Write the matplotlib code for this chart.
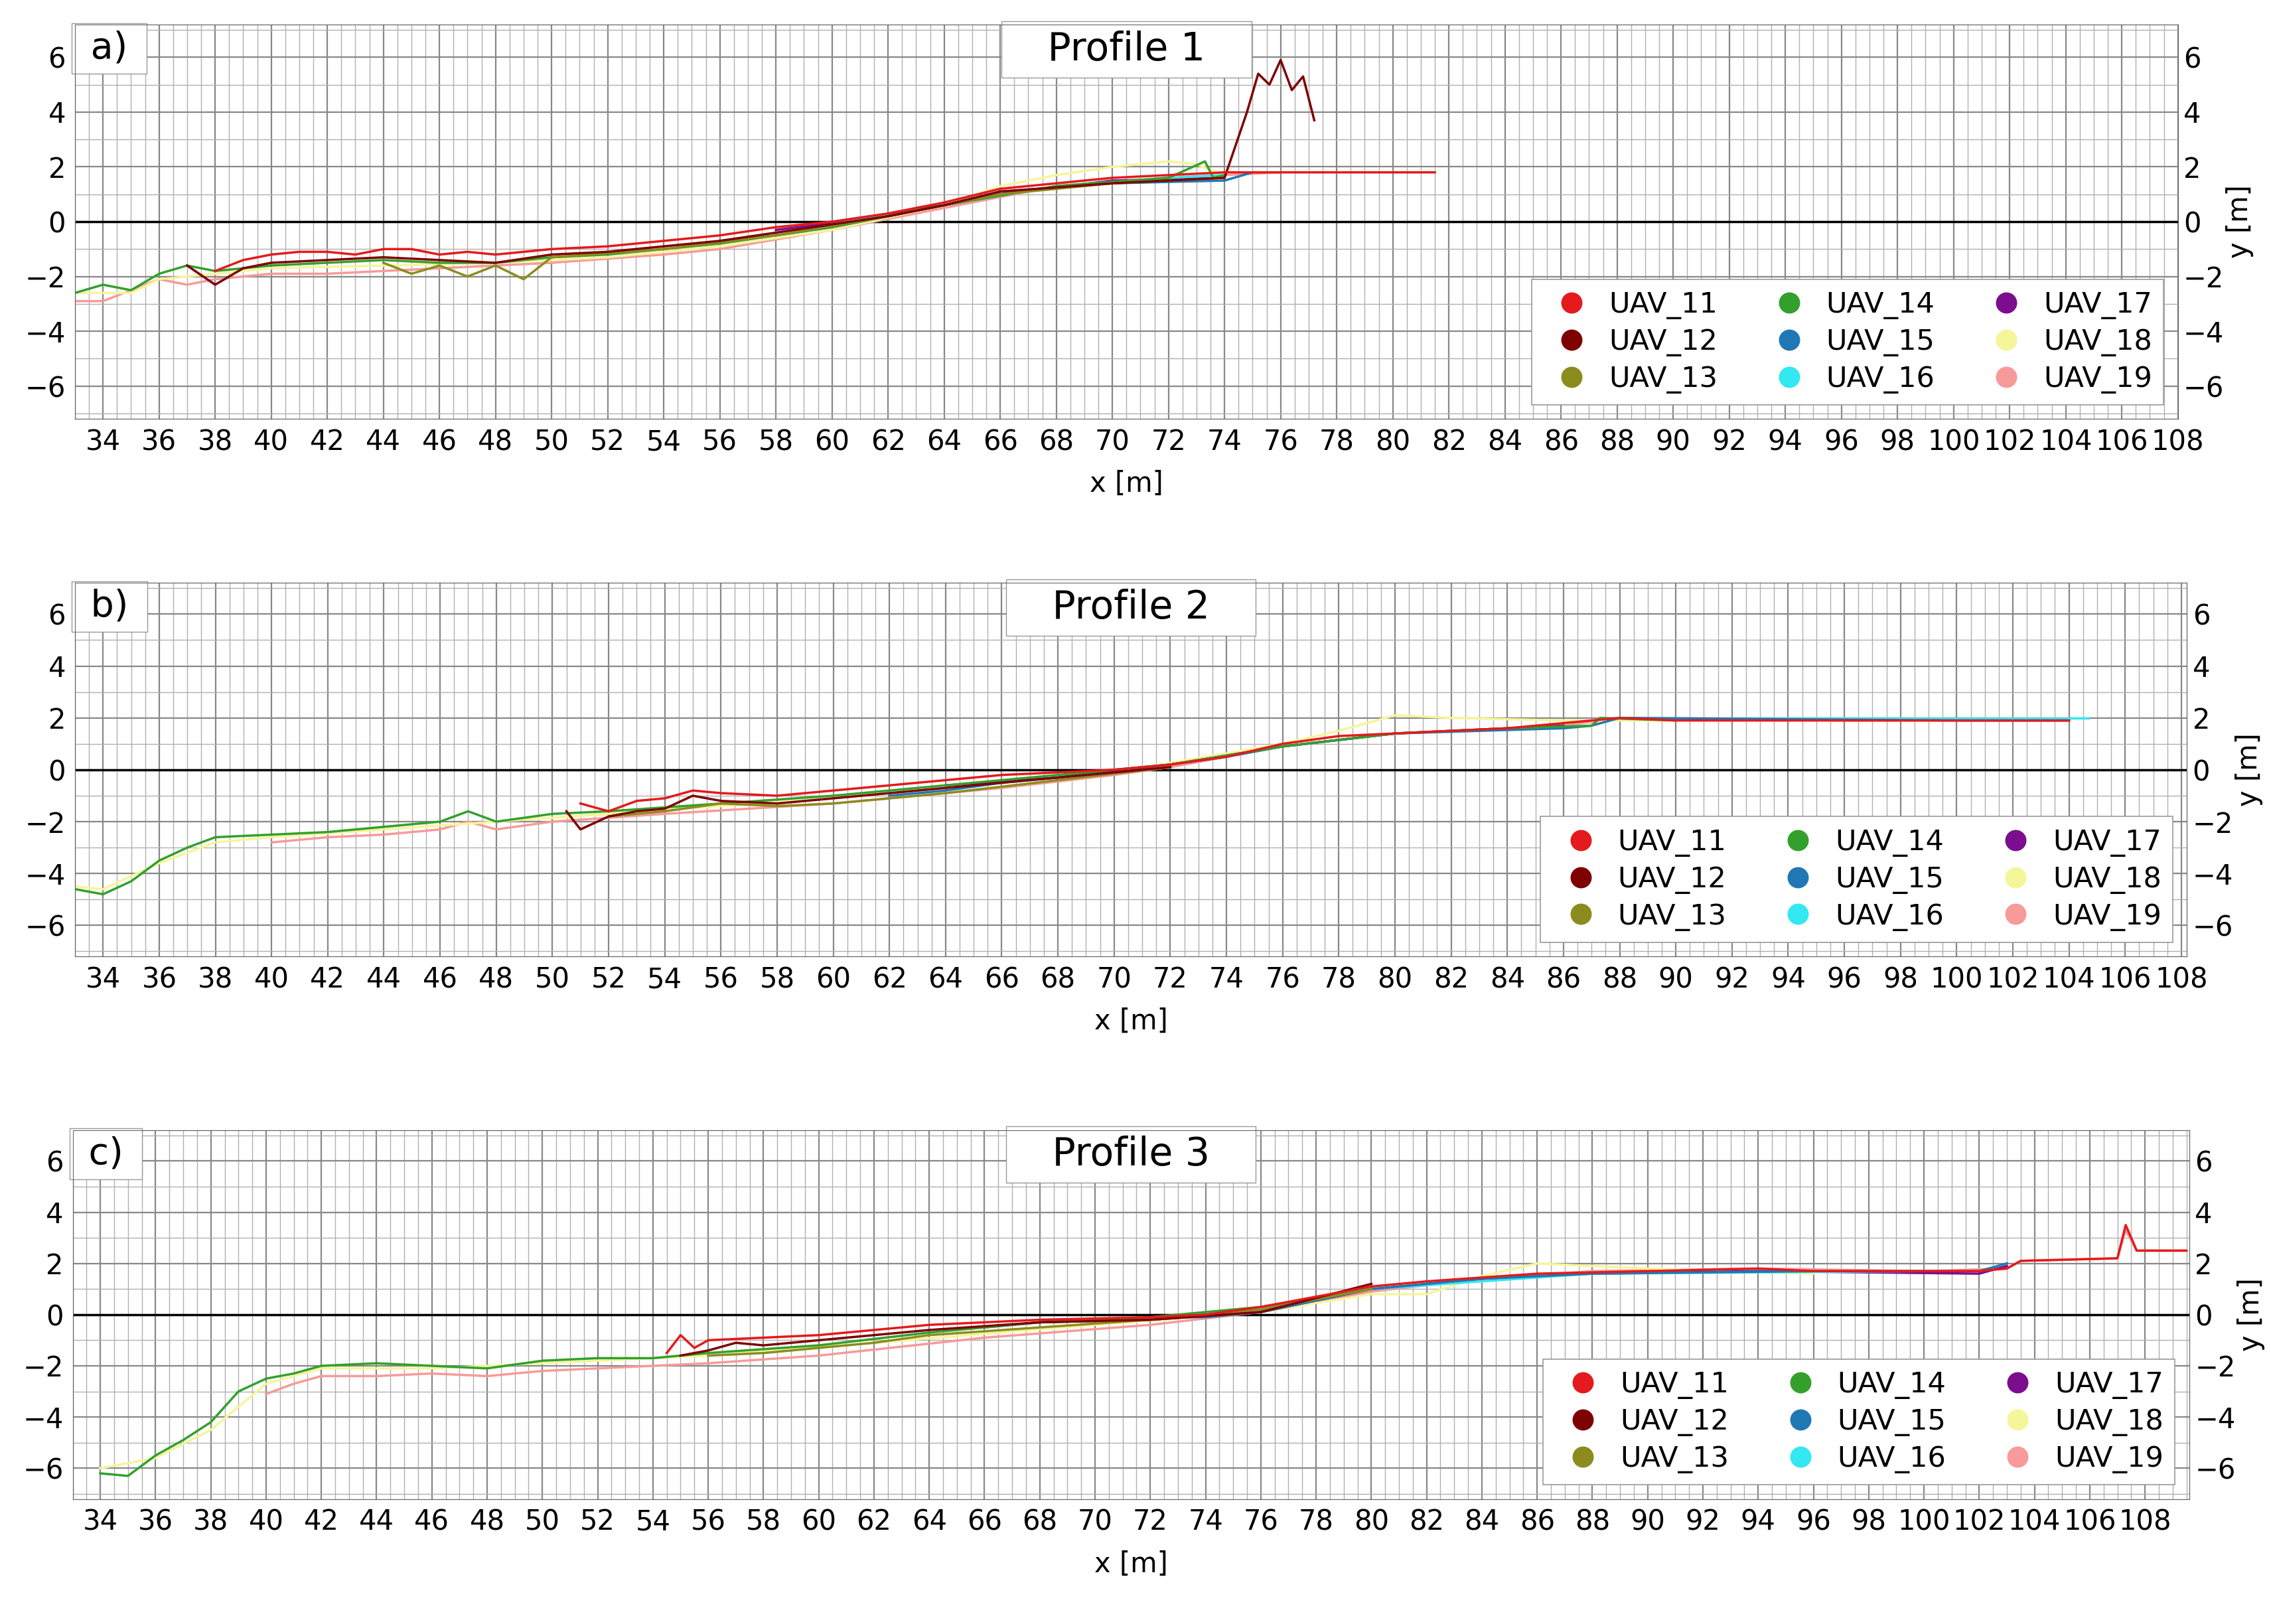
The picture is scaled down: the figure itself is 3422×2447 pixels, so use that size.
import matplotlib
matplotlib.use("Agg")
import matplotlib.pyplot as plt
from matplotlib.ticker import MultipleLocator
from matplotlib.lines import Line2D

plt.rcParams["font.family"] = ["DejaVu Sans"]

SERIES = ["UAV_11", "UAV_12", "UAV_13", "UAV_14", "UAV_15", "UAV_16", "UAV_17", "UAV_18", "UAV_19"]
COLORS = ["#e41a1c", "#7f0000", "#8c8c1e", "#33a02c", "#1f78b4", "#33e8f0", "#7b0d8e", "#f5f59a", "#f79a9a"]

# ---- Profile 1 ----
p1_x_red = [38, 39, 40, 41, 42, 43, 44, 45, 46, 47, 48, 50, 52, 54, 56, 58, 60, 62, 64, 66, 68, 70, 72, 74, 76, 78, 81.5]
p1_y_red = [-1.8, -1.4, -1.2, -1.1, -1.1, -1.2, -1.0, -1.0, -1.2, -1.1, -1.2, -1.0, -0.9, -0.7, -0.5, -0.2, 0.0, 0.3, 0.7, 1.2, 1.4, 1.6, 1.7, 1.8, 1.8, 1.8, 1.8]
p1_x_dred = [37, 38, 39, 40, 42, 44, 46, 48, 50, 52, 54, 56, 58, 60, 62, 64, 66, 70, 74, 74.8, 75.2, 75.6, 76, 76.4, 76.8, 77.2]
p1_y_dred = [-1.6, -2.3, -1.7, -1.5, -1.4, -1.3, -1.4, -1.5, -1.2, -1.1, -0.9, -0.7, -0.4, -0.1, 0.2, 0.6, 1.1, 1.4, 1.6, 4.0, 5.4, 5.0, 5.9, 4.8, 5.3, 3.7]
p1_x_olive = [44, 45, 46, 47, 48, 49, 50, 54, 58, 62, 66, 70, 74]
p1_y_olive = [-1.5, -1.9, -1.6, -2.0, -1.6, -2.1, -1.3, -1.0, -0.5, 0.2, 1.0, 1.4, 1.6]
p1_x_green = [33, 34, 35, 36, 37, 38, 40, 42, 44, 46, 48, 50, 52, 56, 60, 64, 68, 72, 73.3, 73.6, 74]
p1_y_green = [-2.6, -2.3, -2.5, -1.9, -1.6, -1.8, -1.6, -1.5, -1.4, -1.5, -1.5, -1.3, -1.2, -0.8, -0.2, 0.6, 1.3, 1.6, 2.2, 1.6, 1.7]
p1_x_blue = [56, 58, 60, 62, 63, 64, 66, 70, 74, 75]
p1_y_blue = [-0.7, -0.5, -0.2, 0.2, 0.5, 0.6, 1.1, 1.4, 1.5, 1.8]
p1_x_cyan = [60, 64, 68, 72, 74]
p1_y_cyan = [-0.1, 0.6, 1.3, 1.6, 1.7]
p1_x_purple = [58, 62, 66, 70, 74]
p1_y_purple = [-0.3, 0.2, 1.0, 1.5, 1.6]
p1_x_yellow = [33, 35, 36, 38, 40, 44, 48, 52, 56, 60, 64, 66, 68, 70, 72, 73, 74]
p1_y_yellow = [-2.6, -2.6, -2.1, -1.9, -1.7, -1.6, -1.5, -1.3, -0.9, -0.3, 0.6, 1.3, 1.7, 2.0, 2.2, 2.1, 1.7]
p1_x_pink = [33, 34, 35, 36, 37, 38, 40, 42, 44, 46, 50, 54, 56, 60, 64, 66, 68, 72, 74, 76]
p1_y_pink = [-2.9, -2.9, -2.5, -2.1, -2.3, -2.1, -1.9, -1.9, -1.8, -1.7, -1.5, -1.2, -1.0, -0.3, 0.5, 0.9, 1.3, 1.6, 1.7, 1.8]

# ---- Profile 2 ----
p2_x_red = [51, 52, 53, 54, 55, 56, 58, 60, 62, 64, 66, 68, 70, 72, 74, 76, 78, 80, 84, 86, 88, 90, 96, 100, 104]
p2_y_red = [-1.3, -1.6, -1.2, -1.1, -0.8, -0.9, -1.0, -0.8, -0.6, -0.4, -0.2, -0.1, 0.0, 0.2, 0.5, 1.0, 1.3, 1.4, 1.6, 1.8, 2.0, 1.9, 1.9, 1.9, 1.9]
p2_x_dred = [50.5, 51, 52, 53, 54, 55, 56, 58, 60, 64, 68, 70, 72]
p2_y_dred = [-1.6, -2.3, -1.8, -1.6, -1.5, -1.0, -1.2, -1.3, -1.1, -0.7, -0.3, -0.1, 0.1]
p2_x_olive = [52, 54, 56, 58, 60, 64, 68, 72]
p2_y_olive = [-1.8, -1.6, -1.3, -1.4, -1.3, -0.9, -0.4, 0.1]
p2_x_green = [33, 34, 35, 36, 37, 38, 40, 42, 44, 46, 47, 48, 50, 52, 56, 60, 64, 68, 72, 76, 80, 84, 87, 87.3, 90]
p2_y_green = [-4.6, -4.8, -4.3, -3.5, -3.0, -2.6, -2.5, -2.4, -2.2, -2.0, -1.6, -2.0, -1.7, -1.6, -1.3, -1.0, -0.6, -0.2, 0.2, 0.9, 1.4, 1.6, 1.7, 2.0, 1.9]
p2_x_blue = [62, 64, 66, 68, 70, 72, 74, 76, 80, 86, 87, 88, 100, 104]
p2_y_blue = [-1.0, -0.8, -0.5, -0.3, 0.0, 0.2, 0.5, 0.9, 1.4, 1.6, 1.7, 2.0, 1.9, 1.9]
p2_x_cyan = [88, 92, 96, 100, 104.7]
p2_y_cyan = [2.0, 2.0, 2.0, 2.0, 2.0]
p2_x_purple = [64, 68, 72, 76, 80, 86]
p2_y_purple = [-0.6, -0.3, 0.2, 0.9, 1.4, 1.7]
p2_x_yellow = [33, 34, 36, 38, 40, 44, 48, 52, 60, 70, 76, 78, 80, 82, 86, 90]
p2_y_yellow = [-4.5, -4.6, -3.6, -2.8, -2.6, -2.3, -2.0, -1.7, -1.1, -0.1, 1.0, 1.5, 2.1, 2.0, 1.9, 1.9]
p2_x_pink = [40, 42, 44, 46, 47, 48, 50, 54, 60, 66, 70, 72, 76, 80, 86, 88, 96, 104]
p2_y_pink = [-2.8, -2.6, -2.5, -2.3, -2.0, -2.3, -2.0, -1.7, -1.3, -0.7, -0.2, 0.1, 0.9, 1.4, 1.7, 2.0, 1.9, 1.9]

# ---- Profile 3 ----
p3_x_red = [54.5, 55, 55.5, 56, 58, 60, 62, 64, 66, 68, 72, 74, 76, 78, 80, 82, 86, 90, 94, 96, 100, 102, 103, 103.5, 107, 107.3, 107.7, 109.5]
p3_y_red = [-1.5, -0.8, -1.3, -1.0, -0.9, -0.8, -0.6, -0.4, -0.3, -0.2, -0.1, 0.0, 0.3, 0.7, 1.1, 1.3, 1.6, 1.7, 1.8, 1.7, 1.7, 1.7, 1.8, 2.1, 2.2, 3.5, 2.5, 2.5]
p3_x_dred = [55, 56, 57, 58, 60, 62, 64, 68, 72, 76, 80]
p3_y_dred = [-1.6, -1.4, -1.1, -1.2, -1.0, -0.8, -0.6, -0.3, -0.2, 0.1, 1.2]
p3_x_olive = [56, 58, 60, 62, 64, 68, 72, 76, 80]
p3_y_olive = [-1.6, -1.5, -1.3, -1.1, -0.8, -0.5, -0.2, 0.2, 1.0]
p3_x_green = [34, 35, 36, 37, 38, 39, 40, 41, 42, 44, 46, 48, 50, 52, 54, 56, 60, 64, 68, 72, 76, 80]
p3_y_green = [-6.2, -6.3, -5.5, -4.9, -4.2, -3.0, -2.5, -2.3, -2.0, -1.9, -2.0, -2.1, -1.8, -1.7, -1.7, -1.5, -1.2, -0.7, -0.3, -0.1, 0.3, 1.0]
p3_x_blue = [66, 68, 70, 72, 74, 76, 80, 84, 88, 96, 102, 103]
p3_y_blue = [-0.5, -0.3, -0.2, -0.1, -0.1, 0.1, 1.0, 1.4, 1.6, 1.7, 1.7, 2.0]
p3_x_cyan = [68, 72, 76, 80, 88, 100]
p3_y_cyan = [-0.2, -0.2, 0.2, 1.0, 1.6, 1.7]
p3_x_purple = [68, 72, 76, 80, 84, 88, 94, 102, 103]
p3_y_purple = [-0.3, -0.2, 0.1, 1.0, 1.4, 1.6, 1.7, 1.6, 1.9]
p3_x_yellow = [34, 36, 38, 40, 42, 46, 50, 56, 62, 70, 76, 80, 82, 84, 86, 90, 96]
p3_y_yellow = [-6.0, -5.6, -4.5, -2.7, -2.1, -2.1, -1.9, -1.6, -1.1, -0.4, 0.1, 0.8, 0.8, 1.5, 2.0, 1.8, 1.6]
p3_x_pink = [40, 41, 42, 44, 46, 48, 50, 52, 56, 60, 66, 72, 76, 80, 84, 88, 94, 100, 103, 103.5, 107, 107.3, 107.7, 109.5]
p3_y_pink = [-3.1, -2.7, -2.4, -2.4, -2.3, -2.4, -2.2, -2.1, -1.9, -1.6, -0.9, -0.4, 0.1, 0.9, 1.4, 1.7, 1.8, 1.7, 1.8, 2.1, 2.2, 3.3, 2.5, 2.5]

PANELS = [
    ("a)", "Profile 1", (33, 108), [0.033, 0.742, 0.926, 0.243],
     [(p1_x_red, p1_y_red), (p1_x_dred, p1_y_dred), (p1_x_olive, p1_y_olive), (p1_x_green, p1_y_green),
      (p1_x_blue, p1_y_blue), (p1_x_cyan, p1_y_cyan), (p1_x_purple, p1_y_purple),
      (p1_x_yellow, p1_y_yellow), (p1_x_pink, p1_y_pink)]),
    ("b)", "Profile 2", (33, 108.2), [0.033, 0.411, 0.930, 0.230],
     [(p2_x_red, p2_y_red), (p2_x_dred, p2_y_dred), (p2_x_olive, p2_y_olive), (p2_x_green, p2_y_green),
      (p2_x_blue, p2_y_blue), (p2_x_cyan, p2_y_cyan), (p2_x_purple, p2_y_purple),
      (p2_x_yellow, p2_y_yellow), (p2_x_pink, p2_y_pink)]),
    ("c)", "Profile 3", (33, 109.6), [0.032, 0.077, 0.932, 0.227],
     [(p3_x_red, p3_y_red), (p3_x_dred, p3_y_dred), (p3_x_olive, p3_y_olive), (p3_x_green, p3_y_green),
      (p3_x_blue, p3_y_blue), (p3_x_cyan, p3_y_cyan), (p3_x_purple, p3_y_purple),
      (p3_x_yellow, p3_y_yellow), (p3_x_pink, p3_y_pink)]),
]

fig = plt.figure(figsize=(34.22, 24.47), dpi=100)

for tag, title, xlim, rect, data in PANELS:
    ax = fig.add_axes(rect)
    ax.set_xlim(*xlim)
    ax.set_ylim(-7.2, 7.2)
    ax.xaxis.set_major_locator(MultipleLocator(2))
    ax.xaxis.set_minor_locator(MultipleLocator(0.5))
    ax.yaxis.set_major_locator(MultipleLocator(2))
    ax.yaxis.set_minor_locator(MultipleLocator(1))
    ax.grid(which="major", color="#888888", lw=1.6)
    ax.grid(which="minor", color="#b0b0b0", lw=1.0)
    ax.set_axisbelow(True)
    ax.axhline(0, color="black", lw=2.5)
    for (xs, ys), c in zip(reversed(data), reversed(COLORS)):
        ax.plot(xs, ys, color=c, lw=2.5)
    ax.tick_params(which="both", labelsize=30, length=0, pad=10)
    ticks = list(range(34, 109, 2))
    ax.set_xticks(ticks)
    ax.set_xticklabels([str(v) for v in ticks])
    ax.set_xlabel("x [m]", fontsize=30, labelpad=15)
    ax2 = ax.twinx()
    ax2.set_ylim(-7.2, 7.2)
    ax2.yaxis.set_major_locator(MultipleLocator(2))
    ax2.tick_params(labelsize=30, length=0, pad=6)
    ax2.set_ylabel("y [m]", fontsize=30, labelpad=2)
    for sp in list(ax.spines.values()) + list(ax2.spines.values()):
        sp.set_color("#666666")
    ax.text(0.002, 0.985, " " + tag + " ", transform=ax.transAxes, fontsize=40, va="top", ha="left",
            bbox=dict(facecolor="white", edgecolor="#999999", pad=8))
    ax.text(0.5, 0.985, "   " + title + "   ", transform=ax.transAxes, fontsize=42, va="top", ha="center",
            bbox=dict(facecolor="white", edgecolor="#999999", pad=10))
    handles = [Line2D([], [], marker="o", ls="", color=c, markersize=22) for c in COLORS]
    leg = ax.legend(handles, SERIES, ncol=3, loc="lower right",
                    fontsize=31, frameon=True, fancybox=False, edgecolor="#999999", framealpha=1,
                    handletextpad=0.3, columnspacing=1.5, borderpad=0.4, labelspacing=0.3,
                    bbox_to_anchor=(1.0, 0.0))
    leg.get_frame().set_linewidth(1.2)

fig.savefig("out.png", dpi=100)
